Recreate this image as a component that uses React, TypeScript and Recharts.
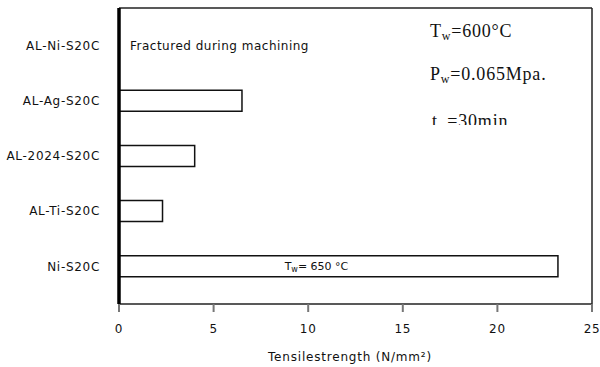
import React from 'react';
import {
  BarChart,
  Bar,
  XAxis,
  YAxis,
  CartesianGrid,
  LabelList,
  Customized,
} from 'recharts';

// alloys top to bottom, values in N/mm² (AL-Ni broke before testing)
const alloys = ['AL-Ni-S20C', 'AL-Ag-S20C', 'AL-2024-S20C', 'AL-Ti-S20C', 'Ni-S20C'];
const strengths: (number | null)[] = [null, 6.5, 4.0, 2.3, 23.2];
const xTicks = [0, 5, 10, 15, 20, 25];
const barNotes = ['', '', '', '', 'Tw'];

const SANS = '"DejaVu Sans", Verdana, sans-serif';
const SERIF = '"Liberation Serif", "Times New Roman", serif';

const data = alloys.map((name, i) => ({
  name,
  value: strengths[i],
  note: barNotes[i],
}));

// T_w = 650 °C written inside the Ni bar
const NiLabel = (props: any) => {
  const { x, y, width, height, value } = props;
  if (!value) return null;
  const cx = Number(x) + Number(width) / 2 - 22;
  const cy = Number(y) + Number(height) / 2 + 4;
  return (
    <text x={cx} y={cy} textAnchor="middle" fontFamily={SANS} fontSize={11} fill="#111">
      T<tspan fontSize={8} dy={2}>w</tspan>
      <tspan dy={-2}>= 650 °C</tspan>
    </text>
  );
};

const Notes = () => (
  <g>
    <defs>
      <clipPath id="cut-t">
        <rect x={400} y={100} width={180} height={25} />
      </clipPath>
    </defs>
    <text x={130} y={50} fontFamily={SANS} fontSize={12} letterSpacing={0.5} fill="#111">
      Fractured during machining
    </text>
    <text x={430} y={37} fontFamily={SERIF} fontSize={18} letterSpacing={0.8} fill="#111">
      T<tspan fontSize={12} dy={3}>w</tspan>
      <tspan dy={-3}>=600°C</tspan>
    </text>
    <text x={430} y={80} fontFamily={SERIF} fontSize={18} letterSpacing={0.8} fill="#111">
      P<tspan fontSize={12} dy={3}>w</tspan>
      <tspan dy={-3}>=0.065Mpa.</tspan>
    </text>
    {/* bottom of this line is cut off in the source figure */}
    <text x={432} y={127} fontFamily={SERIF} fontSize={18} letterSpacing={0.8} fill="#111" clipPath="url(#cut-t)">
      t<tspan fontSize={12} dy={6}>w</tspan>
      <tspan dy={-6}>=30min</tspan>
    </text>
    <text x={350} y={361} textAnchor="middle" fontFamily={SANS} fontSize={12} letterSpacing={0.8} fill="#111">
      Tensilestrength (N/mm²)
    </text>
  </g>
);

export default function App() {
  return (
    <div style={{ position: 'absolute', left: 0, top: 0, width: 600, height: 367, background: '#fff' }}>
      <BarChart
        width={600}
        height={367}
        data={data}
        layout="vertical"
        margin={{ top: 8, right: 8, left: 0, bottom: 0 }}
      >
        {/* frame: top and right edges of the plot area */}
        <CartesianGrid
          stroke="#222"
          strokeWidth={1.5}
          horizontalCoordinatesGenerator={({ offset }: any) => [offset.top]}
          verticalCoordinatesGenerator={({ offset }: any) => [offset.left + offset.width]}
        />
        <XAxis
          type="number"
          dataKey="value"
          domain={[0, 25]}
          ticks={xTicks}
          height={63}
          axisLine={{ stroke: '#222', strokeWidth: 1.5 }}
          tickLine={{ stroke: '#777', strokeWidth: 2 }}
          tickSize={8}
          tickMargin={12}
          tick={{ fontFamily: SANS, fontSize: 12, letterSpacing: 0.7, fill: '#111' }}
        />
        <YAxis
          type="category"
          dataKey="name"
          width={119}
          padding={{ top: 10, bottom: 10 }}
          axisLine={{ stroke: '#000', strokeWidth: 3.5 }}
          tickLine={false}
          tickSize={0}
          tickMargin={19}
          tick={{ fontFamily: SANS, fontSize: 12, letterSpacing: 0.7, fill: '#111' }}
        />
        <Bar
          dataKey="value"
          fill="#fff"
          stroke="#111"
          strokeWidth={1.5}
          barSize={21}
          isAnimationActive={false}
        >
          <LabelList dataKey="note" content={<NiLabel />} />
        </Bar>
        <Customized component={Notes} />
      </BarChart>
    </div>
  );
}
